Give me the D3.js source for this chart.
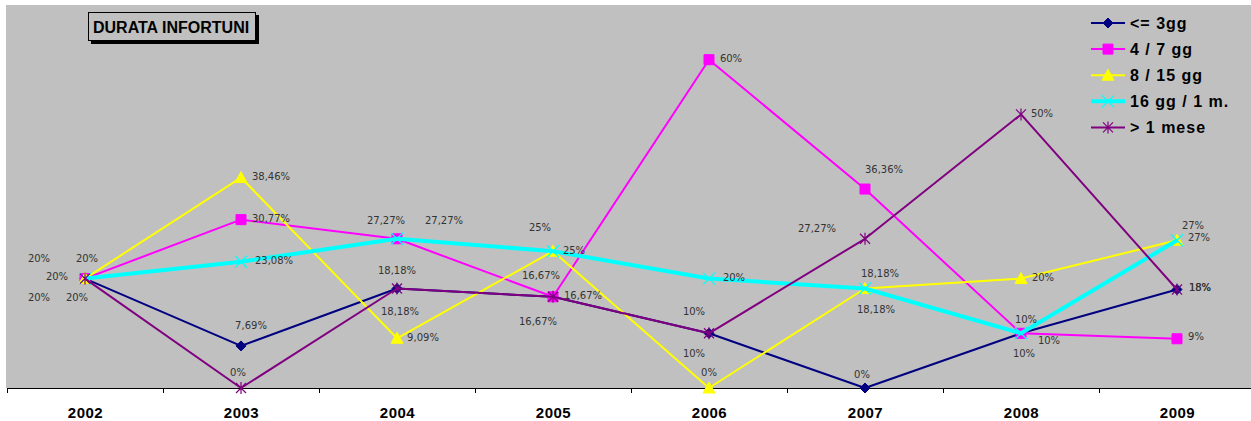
<!DOCTYPE html>
<html>
<head>
<meta charset="utf-8">
<script src="https://cdn.jsdelivr.net/npm/d3@7"></script>
<style>
  body { margin: 0; background: #fff; }
  svg { display: block; }
</style>
</head>
<body>
<div id="chart"></div>
<script>
var years = ["2002", "2003", "2004", "2005", "2006", "2007", "2008", "2009"];
var seriesNames = ["<= 3gg", "4 / 7 gg", "8 / 15 gg", "16 gg / 1 m.", "> 1 mese"];
var upTo3 = [20, 7.69, 18.18, 16.67, 10, 0, 10, 18];
var from4to7 = [20, 30.77, 27.27, 16.67, 60, 36.36, 10, 9];
var from8to15 = [20, 38.46, 9.09, 25, 0, 18.18, 20, 27];
var from16to1m = [20, 23.08, 27.27, 25, 20, 18.18, 10, 27];
var over1m = [20, 0, 18.18, 16.67, 10, 27.27, 50, 18];
var seriesValues = [upTo3, from4to7, from8to15, from16to1m, over1m];

// label placement (dx, dy from the marker), kept apart from the data
var labelOffsets = [
  [[-46, 19], [10, -20], [0, -18], [-12, -21], [-15, -22], [-3, -14], [5, -14], [23, -2]],
  [[2, -20], [30, -1], [-11, -18], [30, -1], [22, -1], [19, -20], [3, 20], [19, -2]],
  [[-46, -20], [30, -1], [26, -1], [21, -1], [0, -16], [15, -15], [22, -1], [16, -15]],
  [[-28, -2], [33, -1], [47, -18], [-13, -24], [25, -1], [11, 21], [28, 7], [22, -3]],
  [[-8, 19], [-3, -16], [3, 23], [-15, 25], [-15, 20], [-48, -10], [21, -1], [23, -2]]
];

var colors = ["#000080", "#ff00ff", "#ffff00", "#00ffff", "#800080"];
var widths = [2, 2, 2, 4, 2];
var markers = ["diamond", "square", "triangle", "x", "star"];

var W = 1251, H = 421;
var plot = { left: 6, top: 5, bottom: 388 };

var svg = d3.select("#chart").append("svg")
  .attr("width", W)
  .attr("height", H);

svg.append("rect")
  .attr("x", plot.left).attr("y", plot.top)
  .attr("width", W - plot.left).attr("height", plot.bottom - plot.top)
  .attr("fill", "#c0c0c0");

// x: one band per year, ticks on the band edges
var xEdge = d3.scaleLinear().domain([0, years.length]).range([7, 7 + 156 * years.length]);
var x = function(i) { return xEdge(i + 0.5); };
var y = d3.scaleLinear().domain([0, 70]).range([plot.bottom, plot.top]);

var tickAxis = d3.axisBottom(xEdge)
  .tickValues(d3.range(0, years.length + 1))
  .tickSize(5)
  .tickSizeOuter(0)
  .tickFormat(function() { return null; });

var gTicks = svg.append("g")
  .attr("transform", "translate(0," + plot.bottom + ")")
  .call(tickAxis);
gTicks.select(".domain").attr("stroke", "#000").attr("stroke-width", 1.2);
gTicks.selectAll(".tick line").attr("stroke", "#000");

var labelAxis = d3.axisBottom(xEdge)
  .tickValues(d3.range(0, years.length).map(function(i) { return i + 0.5; }))
  .tickSize(0)
  .tickPadding(19)
  .tickFormat(function(d) { return years[Math.floor(d)]; });

var gLabels = svg.append("g")
  .attr("transform", "translate(0," + plot.bottom + ")")
  .call(labelAxis);
gLabels.select(".domain").remove();
gLabels.selectAll("text")
  .attr("font-family", "Liberation Sans, Arial, sans-serif")
  .attr("font-weight", "bold")
  .attr("font-size", 15)
  .attr("letter-spacing", 0.5)
  .attr("fill", "#000");

function markerPath(type) {
  switch (type) {
    case "diamond": return "M0,-5L5,0L0,5L-5,0Z";
    case "square": return "M-5,-5H5V5H-5Z";
    case "triangle": return "M0,-6L6,5H-6Z";
    case "x": return "M-6,-6L6,6M-6,6L6,-6";
    case "star": return "M-5,-5L5,5M-5,5L5,-5M0,-6V6";
  }
}

function drawMarker(g, type, color) {
  var filled = type === "diamond" || type === "square" || type === "triangle";
  g.append("path")
    .attr("d", markerPath(type))
    .attr("fill", filled ? color : "none")
    .attr("stroke", color)
    .attr("stroke-width", filled ? 1 : 1.2);
}

var line = d3.line()
  .x(function(d, i) { return x(i); })
  .y(function(d) { return y(d); });

seriesValues.forEach(function(vals, s) {
  var g = svg.append("g");
  g.append("path")
    .attr("d", line(vals))
    .attr("fill", "none")
    .attr("stroke", colors[s])
    .attr("stroke-width", widths[s])
    .attr("stroke-linejoin", "round");
  vals.forEach(function(v, i) {
    var m = g.append("g").attr("transform", "translate(" + x(i) + "," + y(v) + ")");
    drawMarker(m, markers[s], colors[s]);
  });
});

function fmt(v) {
  return (Number.isInteger(v) ? String(v) : v.toFixed(2).replace(".", ",")) + "%";
}

seriesValues.forEach(function(vals, s) {
  svg.append("g").selectAll("text")
    .data(vals)
    .join("text")
    .attr("x", function(d, i) { return x(i) + labelOffsets[s][i][0]; })
    .attr("y", function(d, i) { return y(d) + labelOffsets[s][i][1]; })
    .attr("text-anchor", "middle")
    .attr("dominant-baseline", "central")
    .attr("font-family", "DejaVu Sans, Verdana, sans-serif")
    .attr("font-size", 10)
    .attr("fill", "#333")
    .text(fmt);
});

// title box
var title = svg.append("g");
title.append("rect").attr("x", 91).attr("y", 15).attr("width", 168).attr("height", 29).attr("fill", "#000");
title.append("rect").attr("x", 88.5).attr("y", 12.5).attr("width", 167).attr("height", 28)
  .attr("fill", "#c0c0c0").attr("stroke", "#000").attr("stroke-width", 1);
title.append("text")
  .attr("x", 93).attr("y", 27)
  .attr("dominant-baseline", "central")
  .attr("font-family", "Liberation Sans, Arial, sans-serif")
  .attr("font-weight", "bold")
  .attr("font-size", 16)
  .text("DURATA INFORTUNI");

// legend
var legend = svg.append("g").attr("transform", "translate(1091,23)");
seriesNames.forEach(function(name, s) {
  var row = legend.append("g").attr("transform", "translate(0," + (s * 26.1) + ")");
  row.append("line").attr("x1", 0).attr("x2", 34)
    .attr("stroke", colors[s]).attr("stroke-width", widths[s]);
  drawMarker(row.append("g").attr("transform", "translate(17,0)"), markers[s], colors[s]);
  row.append("text")
    .attr("x", 39)
    .attr("dominant-baseline", "central")
    .attr("font-family", "Liberation Sans, Arial, sans-serif")
    .attr("font-weight", "bold")
    .attr("font-size", 16)
    .attr("letter-spacing", 1)
    .attr("fill", "#000")
    .text(name);
});
</script>
</body>
</html>
